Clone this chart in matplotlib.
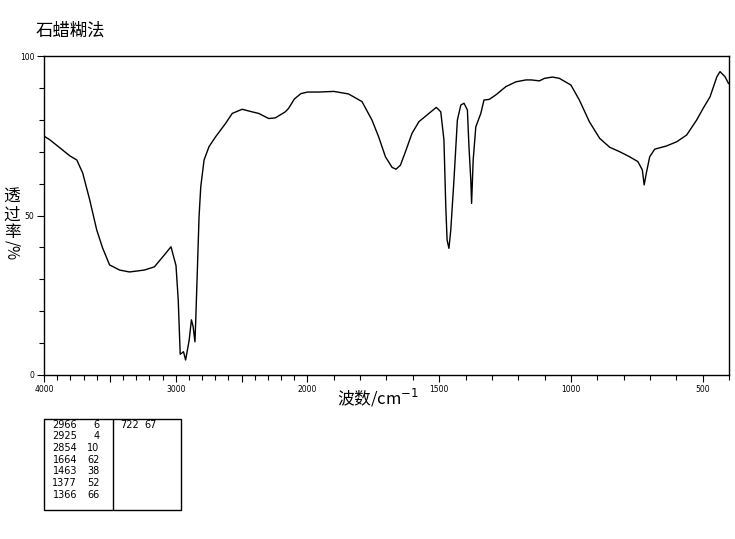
import numpy as np
import matplotlib
matplotlib.use("Agg")
import matplotlib.pyplot as plt
from matplotlib.patches import Rectangle

plt.rcParams['font.family'] = ['Noto Sans CJK SC', 'DejaVu Sans']

# spectrum (wavenumber cm-1, transmittance %)
wavenumber = [4000, 3955, 3879, 3804, 3751, 3706, 3653, 3600, 3555, 3502, 3426, 3351, 3238, 3162,
              3087, 3036, 2998, 2981, 2966, 2953, 2941, 2925, 2898, 2881, 2868, 2854, 2848, 2835,
              2823, 2810, 2785, 2747, 2697, 2621, 2571, 2496, 2421, 2370, 2294, 2244, 2168, 2143,
              2100, 2050, 2000, 1958, 1900, 1844, 1793, 1755, 1730, 1704, 1679, 1664, 1647, 1628,
              1603, 1577, 1539, 1511, 1494, 1482, 1475, 1470, 1463, 1456, 1444, 1431, 1418, 1406,
              1393, 1387, 1380, 1377, 1371, 1361, 1342, 1330, 1310, 1285, 1247, 1209, 1171, 1150,
              1120, 1100, 1070, 1044, 1000, 968, 930, 891, 853, 815, 777, 746, 729, 722, 714, 701,
              682, 637, 599, 561, 523, 498, 472, 446, 434, 415, 402]
transmittance = [74.9, 73.7, 71.2, 68.7, 67.4, 63.3, 54.9, 45.5, 39.8, 34.5, 32.9, 32.3, 32.9, 33.9,
                 37.6, 40.2, 34.3, 23.5, 6.5, 6.9, 7.3, 4.7, 10.9, 17.3, 15.2, 10.4, 17.3, 33.9,
                 49.6, 59, 67.4, 71.6, 74.7, 78.9, 82, 83.3, 82.5, 82, 80.4, 80.6, 82.5, 83.6,
                 86.5, 88.2, 88.7, 88.7, 88.9, 88.1, 85.7, 79.9, 74.7, 68.4, 65.1, 64.5, 65.8, 70,
                 75.8, 79.4, 82, 83.9, 82.5, 73.7, 52.8, 42.3, 39.7, 45.5, 61.1, 79.9, 84.6, 85.2,
                 83.1, 71.6, 61.1, 53.8, 67.4, 77.8, 82, 86.2, 86.4, 87.8, 90.4, 91.9, 92.5, 92.5,
                 92.2, 93, 93.4, 93, 90.9, 86.2, 79.4, 74.2, 71.4, 70, 68.4, 66.9, 64.3, 59.6, 63.2, 68.4,
                 70.8, 71.8, 73.1, 75.2, 79.9, 83.6, 87.2, 93.5, 95.1, 93.5, 91.4]

# peak table
peak_wn = [2966, 2925, 2854, 1664, 1463, 1377, 1366, 722]
peak_t = [6, 4, 10, 62, 38, 52, 66, 67]

x_labels = {4000: "4000", 3000: "3000", 2000: "2000", 1500: "1500", 1000: "1000", 500: "500"}
y_labels = {0: "0", 50: "50", 100: "100"}


# scale is doubled below 2000 cm-1
def fwd(x):
    x = np.asarray(x, float)
    return np.where(x <= 2000, x, 2000 + (x - 2000) / 2)


def inv(u):
    u = np.asarray(u, float)
    return np.where(u <= 2000, u, 2000 + (u - 2000) * 2)


W, H = 735, 539
fig = plt.figure(figsize=(W / 100, H / 100), dpi=100)
ax = fig.add_axes([44 / W, (H - 375) / H, 685 / W, 319 / H])

ax.set_xscale('function', functions=(fwd, inv))
ax.plot(wavenumber, transmittance, color='black', linewidth=1.0)
ax.set_xlim(4000, 400)
ax.set_ylim(0, 100)

major_x = [4000, 3500, 3000, 2500, 2000, 1500, 1000, 500]
ax.set_xticks(major_x)
ax.set_xticklabels([x_labels.get(v, "") for v in major_x], fontsize=5.5, family='DejaVu Sans')
ax.set_xticks(np.arange(400, 4001, 100), minor=True)
ax.set_yticks([0, 50, 100])
ax.set_yticklabels([y_labels[v] for v in [0, 50, 100]], fontsize=5.5, family='DejaVu Sans')
ax.set_yticks(np.arange(0, 101, 10), minor=True)
ax.tick_params(which='major', length=5, width=0.8, direction='out', pad=2)
ax.tick_params(which='minor', length=3.5, width=0.8, direction='out')
for s in ax.spines.values():
    s.set_linewidth(1.0)

fig.text(36 / W, 1 - 31 / H, "石蜡糊法", fontsize=12.5, va='center', ha='left')
fig.text(378 / W, 1 - 398 / H, "波数/cm$^{-1}$", fontsize=12, va='center', ha='center')

# vertical y label: upright characters stacked, "/%" turned
for ch, yc in zip("透过率", [197, 215, 233]):
    fig.text(12 / W, 1 - yc / H, ch, fontsize=12, va='center', ha='center')
fig.text(12 / W, 1 - 250 / H, "/%", fontsize=11, va='center', ha='center', rotation=-90)

# peak table
tab = fig.add_axes([44 / W, (H - 510) / H, 137 / W, 91 / H])
tab.set_xlim(44, 181)
tab.set_ylim(510, 419)
tab.axis('off')
tab.add_patch(Rectangle((44, 419), 137, 91, fill=False, edgecolor='black', linewidth=1.0, clip_on=False))
tab.plot([113, 113], [419, 510], color='black', linewidth=1.0)
for i, (w, t) in enumerate(zip(peak_wn, peak_t)):
    if i < 7:
        xw, xt, yy = 77, 99.5, 424.5 + 11.7 * i
    else:
        xw, xt, yy = 139, 157, 424.5 + 11.7 * (i - 7)
    tab.text(xw, yy, str(w), fontsize=7, ha='right', va='center', family='DejaVu Sans')
    tab.text(xt, yy, str(t), fontsize=7, ha='right', va='center', family='DejaVu Sans')

fig.savefig("out.png", dpi=100)
